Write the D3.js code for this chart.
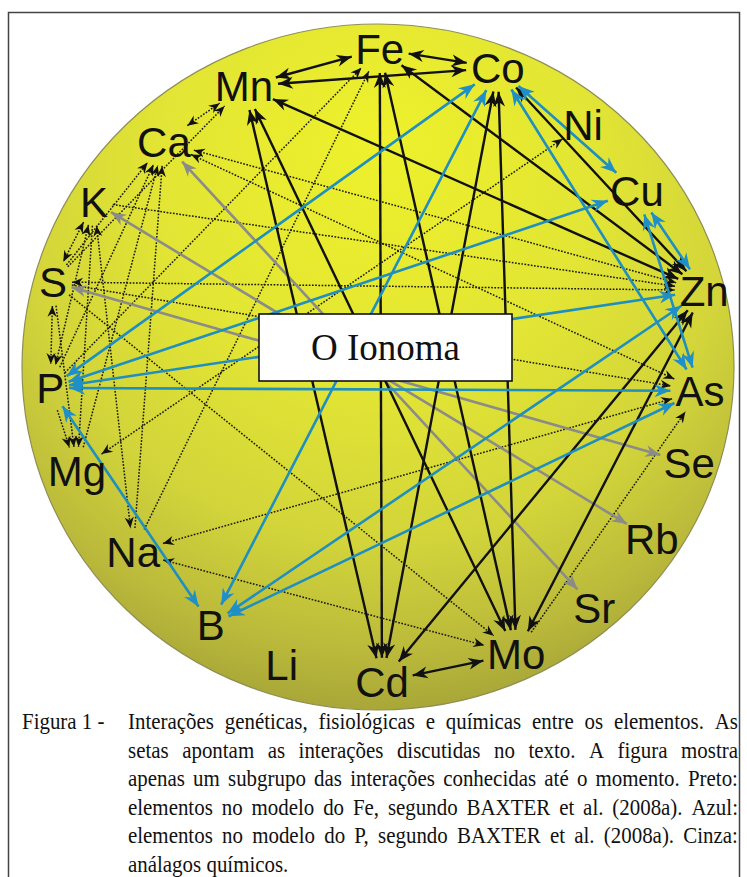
<!DOCTYPE html>
<html><head><meta charset="utf-8">
<script src="https://cdn.jsdelivr.net/npm/d3@7"></script>
<style>body{margin:0;background:#fff}</style>
</head><body>
<svg id="chart" width="747" height="877"></svg>
<script>
// ---------- data ----------
const nodeNames  = ["Fe","Co","Ni","Cu","Zn","As","Se","Rb","Sr","Mo","Cd","Li","B","Na","Mg","P","S","K","Ca","Mn"];
const nodeAngles = [0.3,21.1,39.2,54.8,76.3,94.4,107.8,123.1,139.1,155.1,179.3,-162.7,-148.0,-128.1,-109.7,-93.8,-74.8,-58.9,-42.5,-24.7];
const nodeRadii  = [0.927,0.935,0.911,0.890,0.943,0.907,0.918,0.918,0.928,0.922,0.918,0.910,0.886,0.874,0.898,0.923,0.946,0.932,0.890,0.901];

// [from, to, heads]  heads: 1 = arrow at target, 2 = both ends
const feModelEdges = [
  ["Mn","Fe",2],["Fe","Co",2],["Mn","Co",2],["Mn","Zn",2],["Fe","Zn",2],["Co","Zn",2],
  ["Mn","Cd",2],["Mn","Mo",2],["Fe","Cd",2],["Fe","Mo",2],["Co","Cd",2],["Co","Mo",2],
  ["Zn","Cd",2],["Zn","Mo",2],["Cd","Mo",2]
];
const pModelEdges = [
  ["Co","Cu",2],["Cu","Zn",2],["Co","As",2],["Cu","As",2],["Co","P",2],["Cu","P",2],
  ["Zn","P",2],["As","P",2],["P","B",2],["Co","B",2],["Zn","B",2],["As","B",2]
];
const analogEdges = [["K","Rb",2],["Ca","Sr",2],["S","Se",2]];
const otherEdges = [
  ["Ca","Mn",2],["S","Mn",1],["Ca","Zn",2],["Ca","As",2],["S","Zn",2],["S","As",1],["K","Zn",1],
  ["P","Fe",1],["Na","Fe",1],["Mg","Ni",2],["Na","As",2],["Na","Mo",2],["S","Mo",1],["Mo","As",1],
  ["K","S",2],["K","P",2],["K","Mg",1],["K","Na",2],["S","Ca",1],["P","Ca",1],["Mg","Ca",1],
  ["Na","Ca",1],["S","P",2],["S","Mg",1],["P","Mg",1]
];
const centerLabel = "O Ionoma";
const captionLead = "Figura 1 -";
const captionLines = [
  "Interações genéticas, fisiológicas e químicas entre os elementos. As",
  "setas apontam as interações discutidas no texto. A figura mostra",
  "apenas um subgrupo das interações conhecidas até o momento. Preto:",
  "elementos no modelo do Fe, segundo BAXTER et al. (2008a). Azul:",
  "elementos no modelo do P, segundo BAXTER et al. (2008a). Cinza:",
  "análagos químicos."
];

// ---------- layout ----------
const svg = d3.select("#chart");
const cx = 378, cy = 367, rx = 356, ry = 343;
const xS = d3.scaleLinear().domain([-1,1]).range([cx-rx, cx+rx]);
const yS = d3.scaleLinear().domain([-1,1]).range([cy-ry, cy+ry]);
const aS = d3.scaleLinear().domain([0,360]).range([0,2*Math.PI]);

const defs = svg.append("defs");
const grad = defs.append("radialGradient").attr("id","ball")
  .attr("cx","50%").attr("cy","30%").attr("r","74%").attr("fx","50%").attr("fy","16%");
[[0,"#eef12a"],[0.42,"#e2e534"],[0.68,"#d2d43a"],[0.86,"#bab93b"],[1,"#a09e36"]]
  .forEach(([o,c])=>grad.append("stop").attr("offset",o).attr("stop-color",c));

const markerDefs = {
  fe:    {color:"#111", path:"M0,0 L-15,-6 L-10.5,0 L-15,6 Z"},
  p:     {color:"#1f8fc8", path:"M0,0 L-16,-6.5 L-11,0 L-16,6.5 Z"},
  analog:{color:"#8b8b88", path:"M0,0 L-15,-6 L-10.5,0 L-15,6 Z"},
  other: {color:"#111", path:"M0,0 L-11,-4.6 L-7.5,0 L-11,4.6 Z"}
};
Object.entries(markerDefs).forEach(([k,m])=>{
  defs.append("marker").attr("id","m-"+k)
    .attr("viewBox","-17 -8 18 16").attr("refX",0).attr("refY",0)
    .attr("markerWidth",18).attr("markerHeight",16)
    .attr("markerUnits","userSpaceOnUse").attr("orient","auto-start-reverse")
    .append("path").attr("d",m.path).attr("fill",m.color);
});

// frame
svg.append("rect").attr("x",8.5).attr("y",12.5).attr("width",731).attr("height",900)
  .attr("fill","#fff").attr("stroke","#444").attr("stroke-width",1.5);

// ball
svg.append("ellipse").attr("cx",cx).attr("cy",cy).attr("rx",rx).attr("ry",ry)
  .attr("fill","url(#ball)").attr("stroke","#8f8e55").attr("stroke-width",1.2);

// nodes
const nodes = nodeNames.map((n,i)=>{
  const a = aS(nodeAngles[i]);
  return {name:n, x:xS(nodeRadii[i]*Math.sin(a)), y:yS(-nodeRadii[i]*Math.cos(a))};
});
const byName = Object.fromEntries(nodes.map(n=>[n.name,n]));

const linkLayer = svg.append("g");
const boxLayer = svg.append("g");
const labelLayer = svg.append("g");

const labels = labelLayer.selectAll("text").data(nodes).join("text")
  .attr("x",d=>d.x).attr("y",d=>d.y).attr("dy","0.36em")
  .attr("text-anchor","middle")
  .attr("font-family","'Liberation Sans', Arial, sans-serif")
  .attr("font-size",42).attr("fill","#111")
  .text(d=>d.name);
labels.each(function(d){ d.w = this.getComputedTextLength(); d.hx = d.w/2+5; d.hy = 24; });

function ends(e){
  const s = byName[e[0]], t = byName[e[1]];
  const dx = t.x-s.x, dy = t.y-s.y, L = Math.hypot(dx,dy), ux = dx/L, uy = dy/L;
  const ds = 1/Math.sqrt((ux/s.hx)**2+(uy/s.hy)**2);
  const dt = 1/Math.sqrt((ux/t.hx)**2+(uy/t.hy)**2);
  return [[s.x+ux*ds, s.y+uy*ds],[t.x-ux*dt, t.y-uy*dt]];
}
const lineGen = d3.line();
function drawEdges(data, key, style){
  linkLayer.append("g").selectAll("path").data(data).join("path")
    .attr("d",d=>lineGen(ends(d)))
    .attr("fill","none")
    .attr("stroke",style.color).attr("stroke-width",style.width)
    .attr("stroke-dasharray",style.dash||null)
    .attr("marker-end","url(#m-"+key+")")
    .attr("marker-start",d=>d[2]===2?"url(#m-"+key+")":null);
}
drawEdges(otherEdges,"other",{color:"#1a1a10",width:1.5,dash:"1.7,1.5"});
drawEdges(analogEdges,"analog",{color:"#8b8b88",width:2.6});
drawEdges(feModelEdges,"fe",{color:"#111",width:2.4});
drawEdges(pModelEdges,"p",{color:"#1f8fc0",width:2.6});

// center box
boxLayer.append("rect").attr("x",259).attr("y",314).attr("width",253).attr("height",67)
  .attr("fill","#fff").attr("stroke","#111").attr("stroke-width",1.6);
boxLayer.append("text").attr("x",385.5).attr("y",360).attr("text-anchor","middle")
  .attr("font-family","'Liberation Serif','Times New Roman',serif").attr("font-size",37)
  .attr("fill","#111").text(centerLabel);

// caption
const capFont = "'Liberation Serif','Times New Roman',serif", capSize = 23, capSx = 0.91;
const capX0 = 128, capX1 = 738, capY0 = 729, capDY = 28.5;
const capG = svg.append("g").attr("font-family",capFont).attr("font-size",capSize).attr("fill","#111");
capG.append("text").attr("transform",`translate(22,${capY0}) scale(${capSx},1)`).text(captionLead);
captionLines.forEach((line,i)=>{
  const words = line.split(" ");
  const g0 = capG.append("g");
  const widths = words.map(w=>{const t=g0.append("text").text(w);const l=t.node().getComputedTextLength();t.remove();return l;});
  const justify = i < captionLines.length-1;
  const natural = d3.sum(widths) + capSize*0.2*(words.length-1);
  const avail = (capX1-capX0)/capSx;
  const sx = capSx*(justify ? Math.min(1, avail/natural) : 1);
  g0.attr("transform",`translate(${capX0},${capY0+i*capDY}) scale(${sx},1)`);
  const gap = justify ? ((capX1-capX0)/sx-d3.sum(widths))/(words.length-1) : capSize*0.25;
  let x = 0;
  words.forEach((w,j)=>{ g0.append("text").attr("x",x).attr("y",0).text(w); x += widths[j]+gap; });
});
</script>
</body></html>
